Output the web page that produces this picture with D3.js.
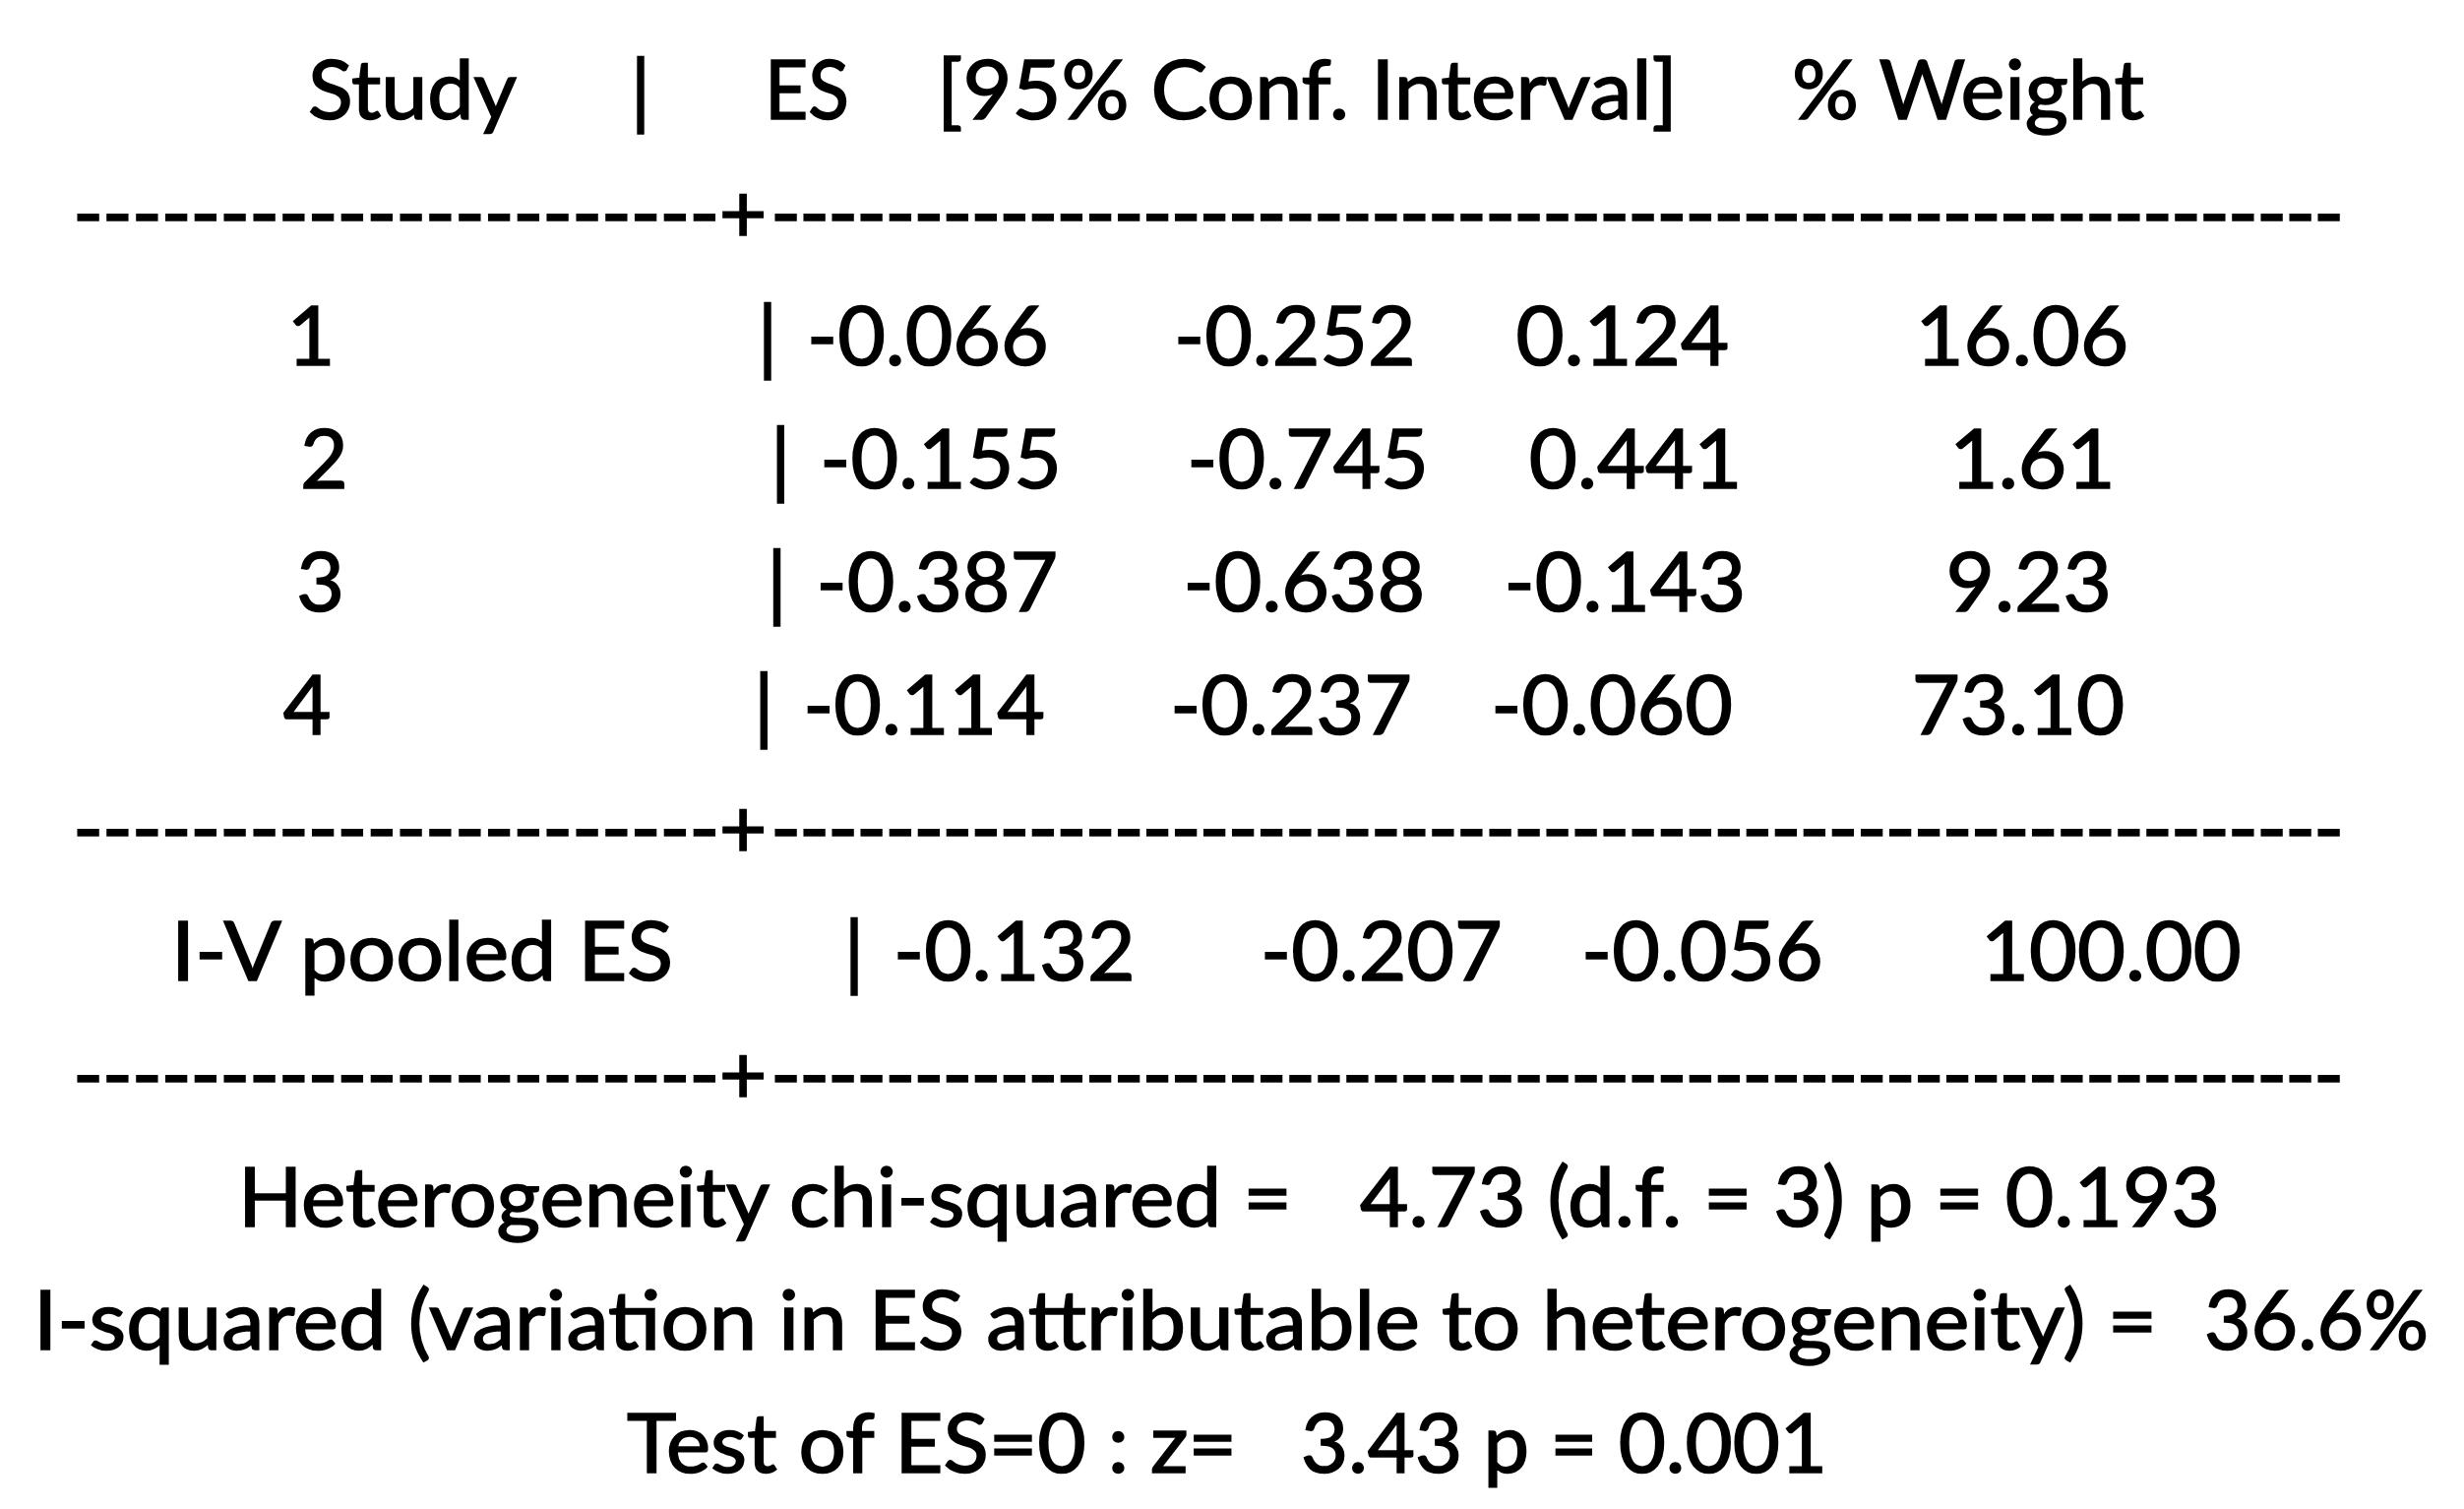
<!DOCTYPE html>
<meta charset="utf-8">
<style>
body {
  margin: 0;
  background: #fff;
}
text {
  font-family: Lato, "Open Sans", sans-serif;
  font-size: 84px;
  fill: #000;
  stroke: #000;
  stroke-width: 1.6px;
  white-space: pre;
}
</style>
<body>
<script src="https://cdn.jsdelivr.net/npm/d3@7"></script>
<script>

var width = 2504,
    height = 1533;

// study rows
var studies = ["1", "2", "3", "4"];
var es      = [-0.066, -0.155, -0.387, -0.114];
var ciLower = [-0.252, -0.745, -0.638, -0.237];
var ciUpper = [0.124, 0.441, -0.143, -0.060];
var weights = [16.06, 1.61, 9.23, 73.10];

// pooled estimate
var pooledLabel  = "I-V pooled ES";
var pooledES     = -0.132,
    pooledLower  = -0.207,
    pooledUpper  = -0.056,
    pooledWeight = 100.00;

var headers = ["Study", "|", "ES", "[95% Conf. Interval]", "% Weight"];

// summary statistics
var hetChi2 = 4.73, hetDf = 3, hetP = 0.193;
var iSquared = 36.6;
var zValue = 3.43, zP = 0.001;

// --- layout ---------------------------------------------------------------

// the source is a centred block of Calibri text, so cell widths are
// modelled on Calibri advances (em = px per em at that size)
var em = 95;
var advance = {" ": 0.226, "-": 0.306, ".": 0.252};
function srcWidth(s) {
  return d3.sum(Array.from(s), function(c) {
    return /[0-9]/.test(c) ? 0.507 : (advance[c] || 0.5);
  }) * em;
}

// one baseline per text line (header, rule, 4 rows, rule, pooled, rule, 3 notes)
var y = d3.scaleLinear().domain([0, 11]).range([121, 1496]);

var x = d3.scaleOrdinal()
    .domain(["study", "bar", "es", "lo", "hi", "w"])
    .range([316, 780, 820, 1193, 1519, 1925]);

var pooledShift = 88;

function f3(v) { return v.toFixed(3).padStart(6); }
function f2(v) { return v.toFixed(2).padStart(6); }

var rows = studies.map(function(s, i) {
  return { line: 2 + i, label: s, es: f3(es[i]), lo: f3(ciLower[i]), hi: f3(ciUpper[i]), w: f2(weights[i]) };
});
function rowWidth(r) { return srcWidth(r.es + r.lo + r.hi + r.w); }
// each line was centred, so narrower rows sit a little to the right
rows.forEach(function(r) { r.shift = (rowWidth(rows[0]) - rowWidth(r)) / 2; });

var pooledRow = { line: 7, label: pooledLabel, es: f3(pooledES), lo: f3(pooledLower),
                  hi: f3(pooledUpper), w: f2(pooledWeight), shift: pooledShift };

// flatten numeric cells
var cells = [];
rows.concat([pooledRow]).forEach(function(r) {
  ["es", "lo", "hi", "w"].forEach(function(k) {
    var t = r[k].trimStart();
    var lead = srcWidth(r[k].slice(0, r[k].length - t.length));
    cells.push({ text: t, x: x(k) + r.shift + lead, line: r.line, len: srcWidth(t) });
  });
});

var svg = d3.select("body").append("svg")
    .attr("width", width)
    .attr("height", height);

svg.selectAll(".num")
    .data(cells)
  .enter().append("text")
    .attr("class", "num")
    .attr("x", function(d) { return d.x; })
    .attr("y", function(d) { return y(d.line); })
    .attr("textLength", function(d) { return d.len; })
    .attr("lengthAdjust", "spacingAndGlyphs")
    .text(function(d) { return d.text; });

// study numbers
svg.selectAll(".study")
    .data(rows)
  .enter().append("text")
    .attr("class", "study")
    .attr("text-anchor", "middle")
    .attr("x", function(d) { return x("study") + d.shift; })
    .attr("y", function(d) { return y(d.line); })
    .text(function(d) { return d.label; });

// pooled label
svg.append("text")
    .attr("x", 174)
    .attr("y", y(pooledRow.line))
    .attr("textLength", 510)
    .attr("lengthAdjust", "spacingAndGlyphs")
    .text(pooledRow.label);

// column separators
svg.selectAll(".bar")
    .data(rows.concat([pooledRow]))
  .enter().append("text")
    .attr("class", "bar")
    .attr("text-anchor", "middle")
    .attr("x", function(d) { return x("bar") + d.shift; })
    .attr("y", function(d) { return y(d.line); })
    .text("|");

// header
var headerLayout = [
  { x: 313, len: 212 },
  { x: 651, anchor: "middle" },
  { x: 777, len: 86 },
  { x: 952, len: 753 },
  { x: 1821, len: 358 }
];
svg.selectAll(".header")
    .data(headers)
  .enter().append("text")
    .attr("class", "header")
    .attr("x", function(d, i) { return headerLayout[i].x; })
    .attr("y", y(0))
    .attr("text-anchor", function(d, i) { return headerLayout[i].anchor || "start"; })
    .each(function(d, i) {
      if (headerLayout[i].len) {
        d3.select(this).attr("textLength", headerLayout[i].len).attr("lengthAdjust", "spacingAndGlyphs");
      }
    })
    .text(function(d) { return d; });

// dashed rules drawn with hyphens, as in the original text output:
// one string per rule, each glyph placed on a fixed pitch, "+" at the separator
var ruleLines = [1, 6, 8];
var leftDashes = 22, rightDashes = 55;
var ruleLeft = d3.scaleLinear().domain([0, leftDashes]).range([74, 730]);
var ruleRight = d3.scaleLinear().domain([0, rightDashes]).range([783, 2380]);

var probe = svg.append("text").text("+");
var plusWidth = probe.node().getComputedTextLength();
probe.remove();

var ruleX = d3.range(leftDashes).map(ruleLeft)
    .concat([755 - plusWidth / 2])
    .concat(d3.range(rightDashes).map(ruleRight));
var ruleText = "-".repeat(leftDashes) + "+" + "-".repeat(rightDashes);

svg.selectAll(".rule")
    .data(ruleLines)
  .enter().append("text")
    .attr("class", "rule")
    .attr("x", ruleX.join(" "))
    .attr("y", function(d) { return y(d); })
    .text(ruleText);

// summary notes, split where the source had wide gaps
var notes = [
  { line: 9,  text: "Heterogeneity chi-squared =", x0: 242, x1: 1313 },
  { line: 9,  text: hetChi2.toFixed(2) + " (d.f. = " + hetDf + ") p = " + hetP.toFixed(3), x0: 1382, x1: 2256 },
  { line: 10, text: "I-squared (variation in ES attributable to heterogeneity) =", x0: 34, x1: 2192 },
  { line: 10, text: iSquared.toFixed(1) + "%", x0: 2240, x1: 2468 },
  { line: 11, text: "Test of ES=0 : z=", x0: 637, x1: 1257 },
  { line: 11, text: zValue.toFixed(2) + " p = " + zP.toFixed(3), x0: 1322, x1: 1857 }
];

svg.selectAll(".note")
    .data(notes)
  .enter().append("text")
    .attr("class", "note")
    .attr("x", function(d) { return d.x0; })
    .attr("y", function(d) { return y(d.line); })
    .attr("textLength", function(d) { return d.x1 - d.x0; })
    .attr("lengthAdjust", "spacingAndGlyphs")
    .text(function(d) { return d.text; });

</script>
